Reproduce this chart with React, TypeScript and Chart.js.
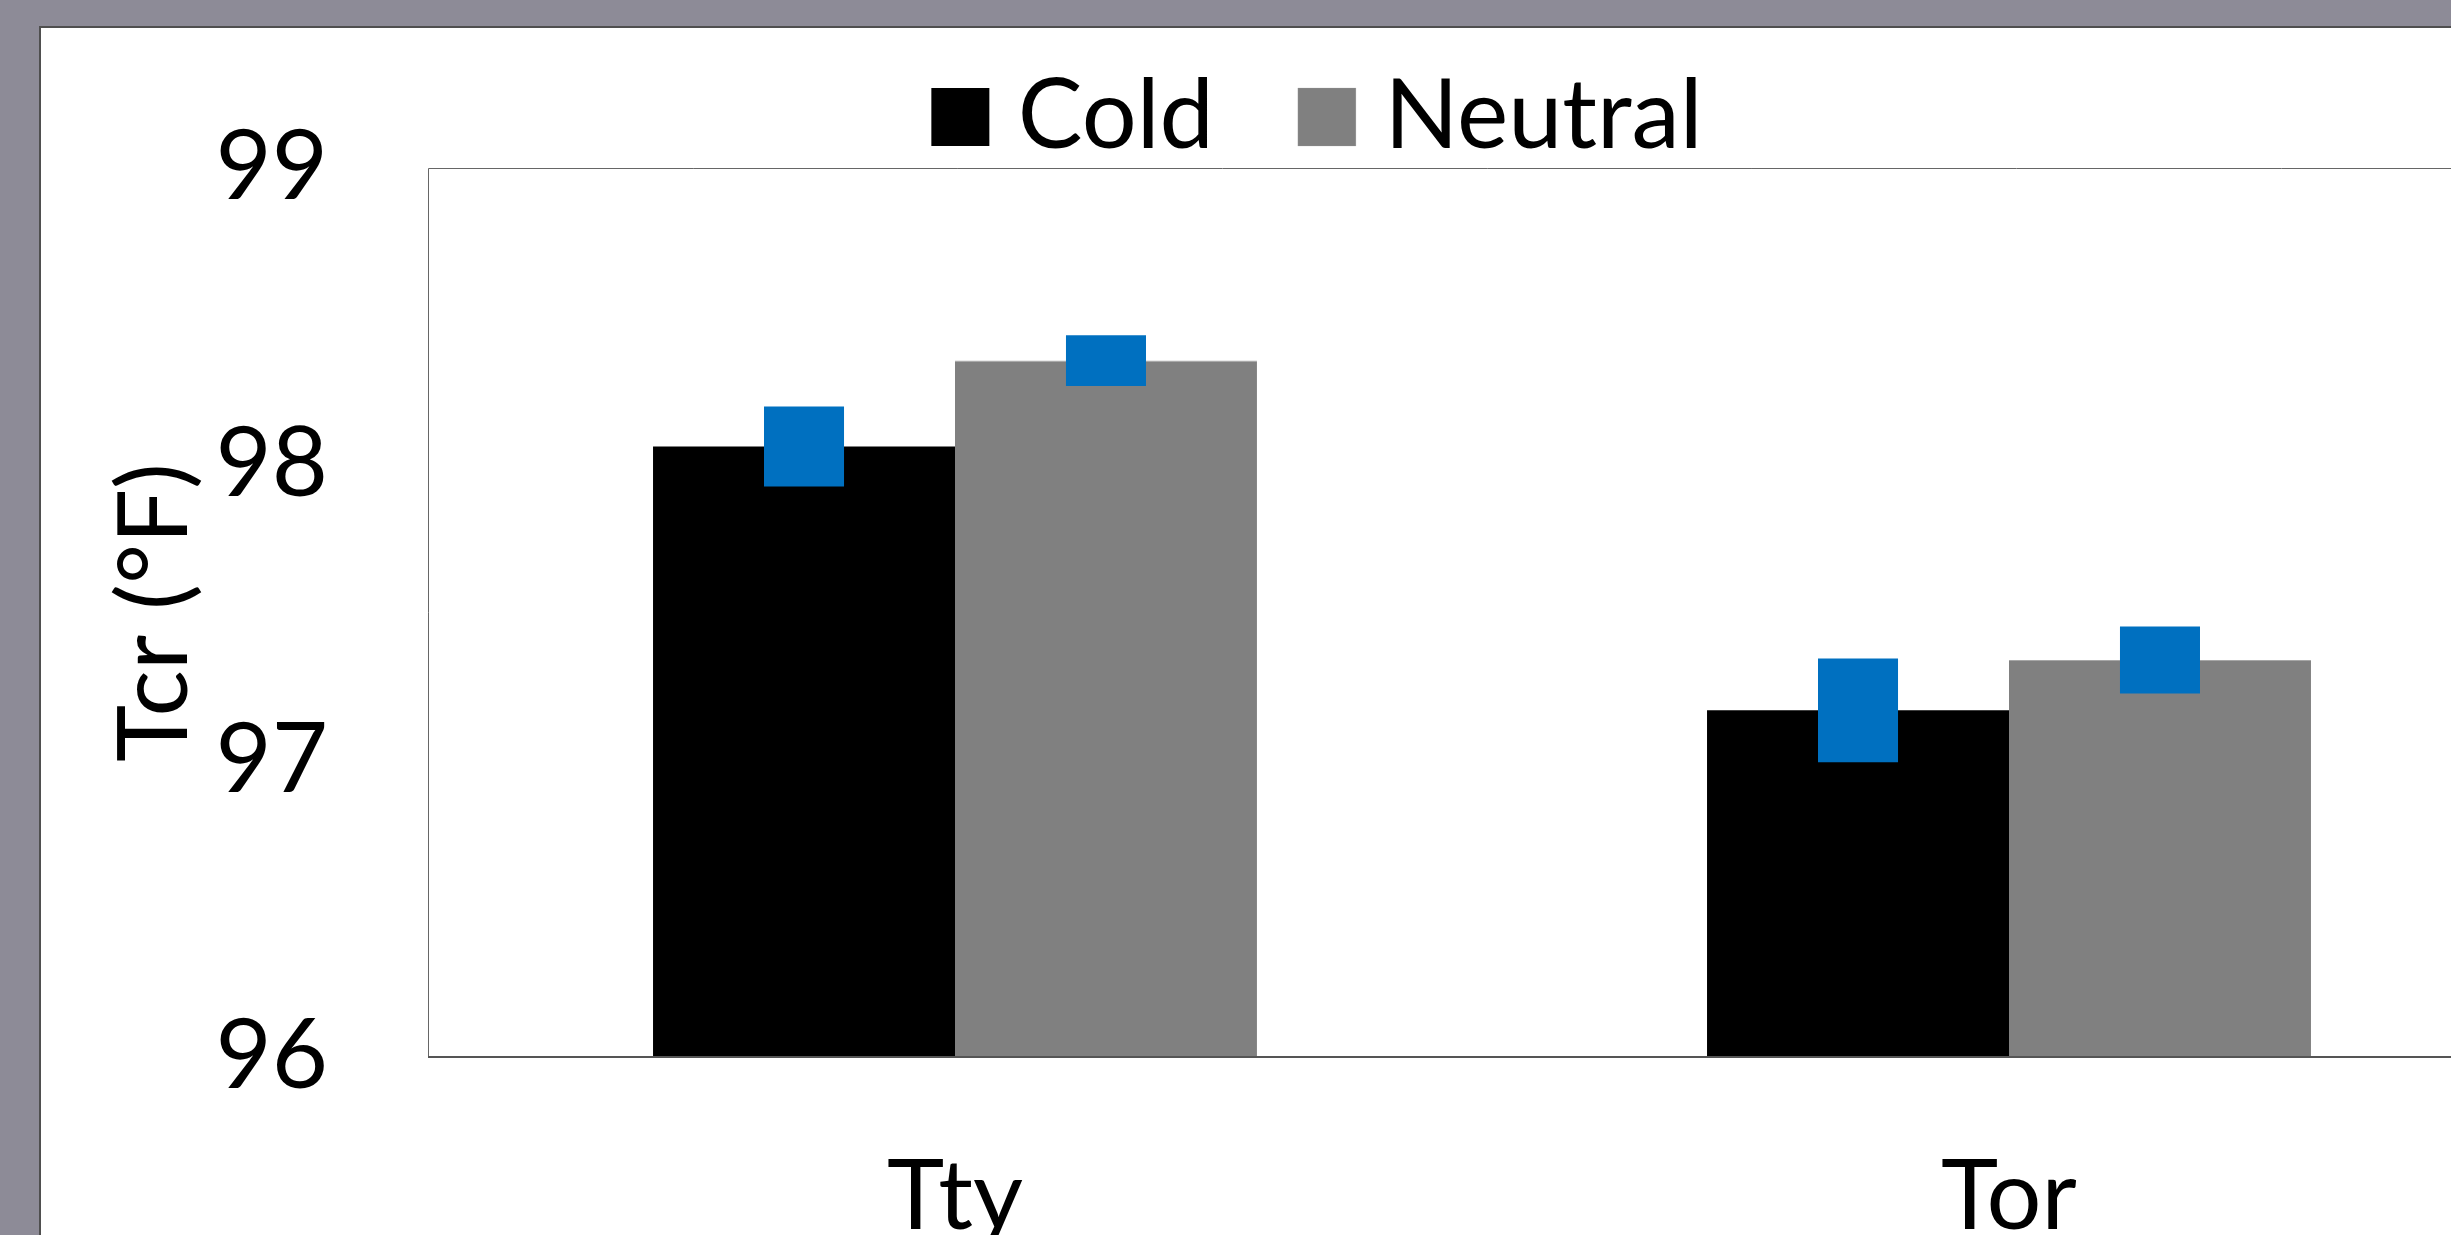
import React, { useEffect, useRef } from "react";
import { Chart, registerables } from "chart.js";

Chart.register(...registerables);

// ---- data ----
const categories = ["Tty", "Tor"];
const seriesNames = ["Cold", "Neutral"];
const coldValues = [98.06, 97.17];
const neutralValues = [98.35, 97.34];
const coldErrors = [0.135, 0.175];
const neutralErrors = [0.086, 0.113];
const yTicks = [96, 97, 98, 99];
const yTitle = "Tcr (°F)";

// ---- styling / layout ----
const W = 2634;
const H = 1297;
const OY = 40; // canvas shifted up by this many px
const FONT = "Lato, 'Open Sans', sans-serif";
const FS = 97;

export default function App() {
  const ref = useRef<HTMLCanvasElement>(null);

  useEffect(() => {
    const canvas = ref.current;
    if (!canvas) return;

    const panelPlugin = {
      id: "panel",
      beforeDraw(chart: any) {
        const ctx = chart.ctx;
        ctx.save();
        ctx.fillStyle = "#ffffff";
        ctx.fillRect(40, 26 + OY, W, H);
        ctx.strokeStyle = "#4f4f4f";
        ctx.lineWidth = 2;
        ctx.beginPath();
        ctx.moveTo(40, H + 10);
        ctx.lineTo(40, 27 + OY);
        ctx.lineTo(W + 10, 27 + OY);
        ctx.stroke();
        ctx.restore();
      },
      afterDatasetsDraw(chart: any) {
        const { left, right, top, bottom } = chart.chartArea;
        const ctx = chart.ctx;
        ctx.save();
        ctx.strokeStyle = "#666666";
        ctx.lineWidth = 1;
        ctx.beginPath();
        ctx.moveTo(left + 0.5, bottom);
        ctx.lineTo(left + 0.5, top + 0.5);
        ctx.lineTo(right + 10, top + 0.5);
        ctx.stroke();
        ctx.strokeStyle = "#555555";
        ctx.lineWidth = 2;
        ctx.beginPath();
        ctx.moveTo(left, bottom);
        ctx.lineTo(right + 10, bottom);
        ctx.stroke();
        ctx.restore();
      },
    };

    const chart = new Chart(canvas, {
      type: "bar",
      data: {
        labels: categories,
        datasets: [
          {
            label: seriesNames[0] + " SE",
            data: coldValues.map((v, i) => [v - coldErrors[i], v + coldErrors[i]]),
            backgroundColor: "#0070C0",
            borderWidth: 0,
            stack: "cold",
            categoryPercentage: 0.573,
            barPercentage: 0.265,
            order: 0,
          },
          {
            label: seriesNames[1] + " SE",
            data: neutralValues.map((v, i) => [v - neutralErrors[i], v + neutralErrors[i]]),
            backgroundColor: "#0070C0",
            borderWidth: 0,
            stack: "neutral",
            categoryPercentage: 0.573,
            barPercentage: 0.265,
            order: 0,
          },
          {
            label: seriesNames[0],
            data: coldValues,
            backgroundColor: "#000000",
            borderWidth: 0,
            stack: "cold",
            categoryPercentage: 0.573,
            barPercentage: 1,
            order: 1,
          },
          {
            label: seriesNames[1],
            data: neutralValues,
            backgroundColor: "#808080",
            borderColor: "#a6a6a6",
            borderWidth: { top: 1, left: 0, right: 0, bottom: 0 },
            borderSkipped: false,
            stack: "neutral",
            categoryPercentage: 0.573,
            barPercentage: 1,
            order: 1,
          },
        ],
      } as any,
      options: {
        animation: false,
        responsive: false,
        devicePixelRatio: 1,
        layout: { padding: { left: 118, right: 98, top: 4.5, bottom: 0 } },
        plugins: {
          tooltip: { enabled: false },
          legend: {
            display: true,
            position: "top",
            align: "center",
            maxHeight: 203.5,
            labels: {
              color: "#000000",
              font: { family: FONT, size: FS },
              usePointStyle: true,
              pointStyle: "rect",
              boxWidth: 18,
              boxHeight: 58,
              padding: 104,
              filter: (item: any) => item.datasetIndex >= 2,
            },
          } as any,
        },
        scales: {
          x: {
            type: "category",
            position: "bottom",
            offset: true,
            grid: { display: false, drawTicks: false },
            border: { display: false },
            ticks: {
              color: "#000000",
              font: { family: FONT, size: FS },
              padding: 83,
              maxRotation: 0,
              autoSkip: false,
            },
            afterFit(s: any) {
              s.height = 200;
            },
          },
          y: {
            type: "linear",
            stacked: false,
            min: yTicks[0],
            max: yTicks[yTicks.length - 1],
            afterBuildTicks(s: any) {
              s.ticks = yTicks.map((v) => ({ value: v }));
            },
            grid: { display: false, drawTicks: false },
            border: { display: false },
            ticks: {
              color: "#000000",
              font: { family: FONT, size: FS },
              padding: 100,
            },
            title: {
              display: true,
              text: yTitle,
              color: "#000000",
              font: { family: FONT, size: FS },
              padding: { top: -20, bottom: 0 },
            },
            afterFit(s: any) {
              s.width = 310;
            },
          },
        },
      } as any,
      plugins: [panelPlugin],
    });

    return () => chart.destroy();
  }, []);

  return (
    <div
      style={{
        position: "fixed",
        left: 0,
        top: 0,
        width: 2451,
        height: 1235,
        overflow: "hidden",
        background: "#8D8B97",
      }}
    >
      <canvas
        ref={ref}
        width={W}
        height={H}
        style={{ position: "absolute", left: 0, top: -OY, width: W, height: H }}
      />
    </div>
  );
}
